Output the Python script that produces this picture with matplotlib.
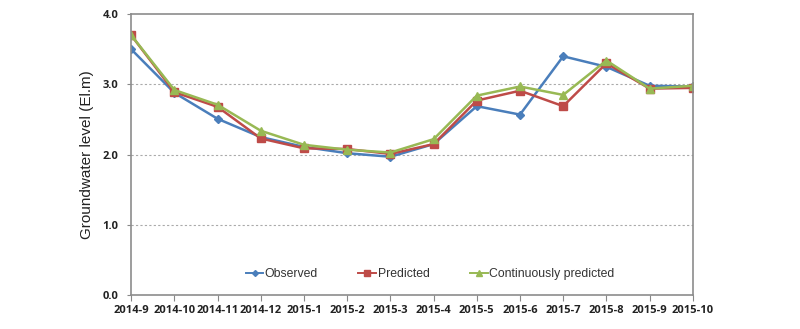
import matplotlib
matplotlib.use("Agg")
import matplotlib.pyplot as plt
import numpy as np

plt.rcParams.update({
    "font.family": "sans-serif",
    "font.sans-serif": ["Liberation Sans", "Arial", "DejaVu Sans"],
})

months = ["2014-9", "2014-10", "2014-11", "2014-12", "2015-1", "2015-2", "2015-3",
          "2015-4", "2015-5", "2015-6", "2015-7", "2015-8", "2015-9", "2015-10"]
observed = [3.50, 2.88, 2.51, 2.25, 2.11, 2.02, 1.97, 2.15, 2.69, 2.57, 3.40, 3.25, 2.98, 2.97]
predicted = [3.70, 2.89, 2.68, 2.23, 2.09, 2.08, 2.01, 2.15, 2.77, 2.91, 2.69, 3.30, 2.94, 2.95]
continuous = [3.70, 2.92, 2.71, 2.34, 2.14, 2.07, 2.03, 2.22, 2.84, 2.97, 2.85, 3.34, 2.94, 2.98]
yticks = [0.0, 1.0, 2.0, 3.0, 4.0]

fig = plt.figure(figsize=(8.0, 3.29), dpi=100)
ax = fig.add_axes([0.164, 0.103, 0.702, 0.854])

x = np.arange(len(months))
ax.plot(x, observed, color="#4A7EBB", marker="D", markersize=4, linewidth=1.8,
        label="Observed")
ax.plot(x, predicted, color="#BE4B48", marker="s", markersize=6, linewidth=1.8,
        label="Predicted")
ax.plot(x, continuous, color="#98B954", marker="^", markersize=6, linewidth=1.8,
        label="Continuously predicted")

tick_font = dict(family="Open Sans", fontsize=8, fontweight="bold", color="#222222")
ax.set_xlim(0, len(months) - 1)
ax.set_ylim(0, 4.0)
ax.set_xticks(x)
ax.set_xticklabels(months, **tick_font)
ax.set_yticks(yticks)
ax.set_yticklabels([f"{v:.1f}" for v in yticks], **tick_font)
ax.tick_params(axis="x", direction="out", length=4, color="#888888", pad=3)
ax.tick_params(axis="y", direction="out", length=3, color="#888888", pad=6)

for y in yticks[1:-1]:
    ax.axhline(y, color="#AAAAAA", linestyle=(0, (2, 2)), linewidth=0.8, zorder=0)

for s in ax.spines.values():
    s.set_color("#8C8C8C")
    s.set_linewidth(1.2)

ax.set_ylabel("Groundwater level (El.m)", fontsize=11, color="#222222", labelpad=6)

leg = ax.legend(loc="center", ncol=3, frameon=False, fontsize=8.8,
                bbox_to_anchor=(0.532, 0.075), columnspacing=3.3, handlelength=1.45,
                handletextpad=0.12, markerscale=0.75, labelcolor="#333333")
for h in leg.get_lines():
    h.set_linewidth(1.4)

fig.savefig("out.png", dpi=100)
